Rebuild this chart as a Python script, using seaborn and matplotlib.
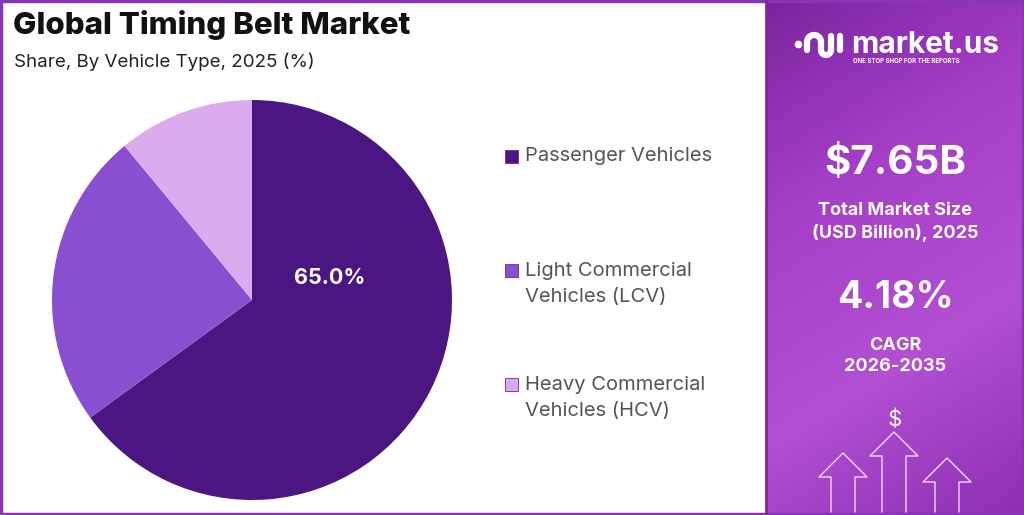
import numpy as np
import matplotlib.pyplot as plt
import matplotlib.patches as mpatches
from matplotlib.colors import LinearSegmentedColormap
import seaborn as sns

# --- data ---
segments = ['Passenger Vehicles', 'Light Commercial\nVehicles (LCV)', 'Heavy Commercial\nVehicles (HCV)']
shares = [65.0, 24.0, 11.0]
seg_colors = ['#4b1682', '#8a4fd0', '#dcaaee']
market_size = '$7.65B'
cagr = '4.18%'

sns.set_theme(style='white')
plt.rcParams['font.family'] = ['Inter', 'DejaVu Sans']

W, H = 1024, 515
fig = plt.figure(figsize=(W / 100, H / 100), dpi=100)
fig.patch.set_facecolor('white')

def fx(px):
    return px / W

def fy(py):
    return 1 - py / H

# --- pie ---
ax = fig.add_axes([fx(52), fy(500), 400 / W, 400 / H])
pal = sns.color_palette(seg_colors)
wedges, _ = ax.pie(shares, colors=pal, startangle=90, counterclock=False,
                   radius=1.0, wedgeprops=dict(linewidth=0))
ax.set_xlim(-1, 1)
ax.set_ylim(-1, 1)
ax.set_aspect('equal')
ax.axis('off')
ax.text(0.39, 0.11, f'{shares[0]:.1f}%', color='white', fontsize=15.5,
        fontweight='bold', ha='center', va='center')

# --- titles ---
fig.text(fx(13), fy(25), 'Global Timing Belt Market', fontsize=22.5, fontweight='heavy',
         color='#111111', va='center', ha='left')
fig.text(fx(14), fy(62), 'Share, By Vehicle Type, 2025 (%)', fontsize=13.5,
         color='#222222', va='center', ha='left')

# --- legend ---
leg_y = [156, 284, 398]
for lab, col, y in zip(segments, pal, leg_y):
    first_y = y if '\n' not in lab else y - 14
    fig.patches.append(mpatches.Rectangle((fx(505), fy(first_y + 7)), 13 / W, 13 / H,
                                          transform=fig.transFigure, facecolor=col,
                                          edgecolor='#6a2aa8', linewidth=0.6))
    fig.text(fx(525), fy(y), lab, fontsize=14.5, color='#555555', va='center',
             ha='left', linespacing=1.55)

# --- right panel ---
pax = fig.add_axes([fx(767), 0, 1 - fx(767), 1])
cmap = LinearSegmentedColormap.from_list('panel', ['#7a249f', '#a63fc8', '#b24fd2', '#8d2fb2'])
grad = np.linspace(0, 1, 256).reshape(-1, 1)
grad = grad + 0.3 * np.linspace(0, 1, 64).reshape(1, -1)
pax.imshow(grad, aspect='auto', cmap=cmap, extent=[0, 1, 0, 1], origin='upper')
pax.set_xlim(0, 1)
pax.set_ylim(0, 1)
pax.axis('off')

def fig_line(xs, ys, **kw):
    fig.lines.append(plt.Line2D([fx(v) for v in xs], [fy(v) for v in ys],
                                transform=fig.transFigure, **kw))

# logo mark
t = np.linspace(np.pi, 0, 30)
fig_line(814 + 7 * np.cos(t), 42 - 7 * np.sin(t), color='white', lw=4.5,
         solid_capstyle='round')
fig_line([807, 807], [42, 50], color='white', lw=4.5, solid_capstyle='round')
t2 = np.linspace(np.pi, 2 * np.pi, 20)
fig_line(826 + 5 * np.cos(t2), 50 - 5 * np.sin(t2), color='white', lw=4.5,
         solid_capstyle='round')
fig_line([821, 821], [42, 50], color='white', lw=4.5, solid_capstyle='round')
fig_line([831, 831], [36, 50], color='white', lw=4.5, solid_capstyle='round')
fig_line([840, 840], [36, 50], color='white', lw=4.5, solid_capstyle='round')
fig_line([798], [44], color='white', marker='o', ms=4.5, lw=0)

cx = fx(895)
fig.text(fx(851), fy(45), 'market.us', fontsize=21.5, fontweight='bold', color='white',
         va='center', ha='left')
fig.text(fx(853), fy(61), 'ONE STOP SHOP FOR THE REPORTS', fontsize=4.4,
         fontweight='bold', color='white', va='center', ha='left')

fig.text(cx, fy(163), market_size, fontsize=29, fontweight='bold', color='white',
         ha='center', va='center')
fig.text(cx, fy(222), 'Total Market Size\n(USD Billion), 2025', fontsize=13,
         fontweight='bold', color='white', ha='center', va='center', linespacing=1.35)
fig.text(cx, fy(298), cagr, fontsize=27, fontweight='bold', color='white',
         ha='center', va='center')
fig.text(cx, fy(356), 'CAGR\n2026-2035', fontsize=13, fontweight='bold', color='white',
         ha='center', va='center', linespacing=1.35)
fig.text(cx, fy(420), '$', fontsize=16, color='white', ha='center', va='center')

# outlined arrows
def arrow(x, top, bottom, half):
    xs = [x - half / 2, x - half / 2, x - half, x, x + half, x + half / 2, x + half / 2]
    ys = [bottom, top + half, top + half, top, top + half, top + half, bottom]
    fig_line(xs, ys, color='#f3d6ff', lw=1)

arrow(843, 453, 512, 24)
arrow(894, 432, 512, 24)
arrow(947, 458, 512, 24)

# borders
fig_line([766, 766], [0, H], color='#7a2aa0', lw=2)
fig.patches.append(mpatches.Rectangle((0.001, 0.002), 0.998, 0.996, transform=fig.transFigure,
                                      fill=False, edgecolor='#8a34b8', linewidth=2.5))

fig.savefig('out.png', dpi=100)
